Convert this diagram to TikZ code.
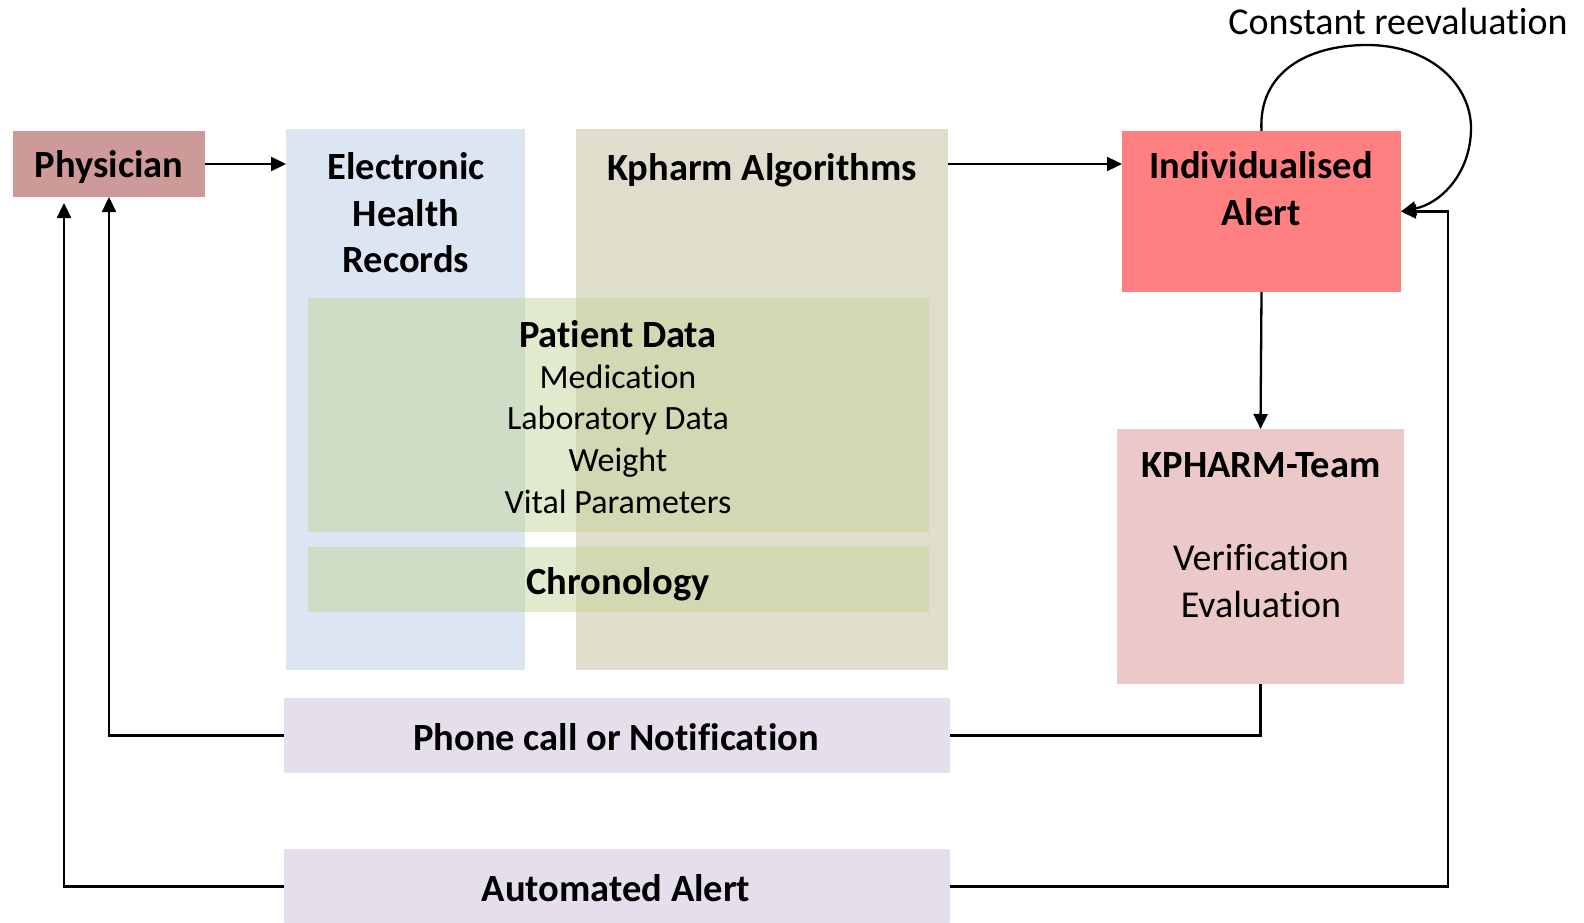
\documentclass[tikz,border=0pt]{standalone}
\usepackage{fontspec}
\setmainfont{Carlito}[Ligatures=NoCommon]
\usetikzlibrary{arrows.meta,calc}

\definecolor{physfill}{RGB}{205,153,153}
\definecolor{ehrfill}{RGB}{220,230,242}
\definecolor{algofill}{RGB}{223,221,203}
\definecolor{datafill}{RGB}{195,214,155}
\definecolor{alertfill}{RGB}{255,128,128}
\definecolor{teamfill}{RGB}{236,201,201}
\definecolor{barfill}{RGB}{229,223,236}

\tikzset{
  box/.style={draw=none, inner sep=0pt, outer sep=0pt},
  databox/.style={box, fill=datafill, fill opacity=0.5},
  barbox/.style={box, fill=barfill, rounded corners=2pt},
  big/.style={font=\fontsize{38}{46.5}\selectfont, align=center, inner sep=0pt},
  bigb/.style={font=\fontsize{38.5}{46.5}\selectfont\bfseries, align=center, inner sep=0pt},
  small/.style={font=\fontsize{34}{41.7}\selectfont, align=center, inner sep=0pt},
  link/.style={line width=2.3pt, -{Triangle[length=15pt,width=14pt]}},
  plain/.style={line width=2.3pt}
}

\begin{document}
\begin{tikzpicture}[x=1pt,y=-1pt]
\useasboundingbox (0,0) rectangle (1584,923);

% boxes
\node[box, fill=physfill, minimum width=192pt, minimum height=66pt] (phys) at (109,164) {};
\node[box, fill=ehrfill, minimum width=239pt, minimum height=541pt] (ehr) at (405.5,399.5) {};
\node[box, fill=algofill, minimum width=372pt, minimum height=541pt] (algo) at (762,399.5) {};
\node[databox, minimum width=621pt, minimum height=234pt] (pdata) at (618.5,415) {};
\node[databox, minimum width=621pt, minimum height=65pt] (chron) at (618.5,579.5) {};
\node[box, fill=alertfill, minimum width=279pt, minimum height=161pt] (alert) at (1261.5,211.5) {};
\node[box, fill=teamfill, minimum width=287pt, minimum height=255pt] (team) at (1260.5,556.5) {};
\node[barbox, minimum width=666pt, minimum height=75pt] (phone) at (617,735.5) {};
\node[barbox, minimum width=666pt, minimum height=75pt] (auto) at (617,886.5) {};

% texts
\node[bigb] (physT) at (109,167) {Physician};
\node[bigb] (ehrT) at (406,213) {Electronic\\Health\\Records};
\node[bigb] (algoT) at (762,170) {Kpharm Algorithms};
\node[bigb] (pdataT) at (618,334) {Patient Data};
\node[small] (pdataL) at (618,439) {Medication\\Laboratory Data\\Weight\\Vital Parameters};
\node[bigb] (chronT) at (618,584) {Chronology};
\node[bigb] (alertT) at (1261,188.5) {Individualised\\Alert};
\node[bigb] (teamT) at (1261,465) {KPHARM-Team};
\node[big] (teamL) at (1261,581) {Verification\\Evaluation};
\node[bigb] (phoneT) at (616,737) {Phone call or Notification};
\node[bigb] (autoT) at (616,888) {Automated Alert};
\node[big] (loopT) at (1398,21) {Constant reevaluation};

% connectors
\coordinate (physIn) at ($(phys.south west)+(51,6)$);
\coordinate (alertIn) at ($(alert.east)+(47,0)$);

\draw[link] (phys.east) -- (phys.east -| ehr.west);
\draw[link] (phys.east -| algo.east) -- (phys.east -| alert.west);
\draw[link] (alert.south) -- (team.north);
\draw[plain] (team.south) |- (phone.east);
\draw[link] (phone.west) -| (phys.south);
\draw[link] (auto.west) -| (physIn);
\draw[link] (auto.east) -| (alertIn) -- (alert.east);
\draw[link] (alert.north) .. controls (1258,72) and (1308,45) .. (1367,45)
  .. controls (1432,45) and (1471,86) .. (1471,128)
  .. controls (1471,172) and (1442,203) .. (alert.east);
\end{tikzpicture}
\end{document}
